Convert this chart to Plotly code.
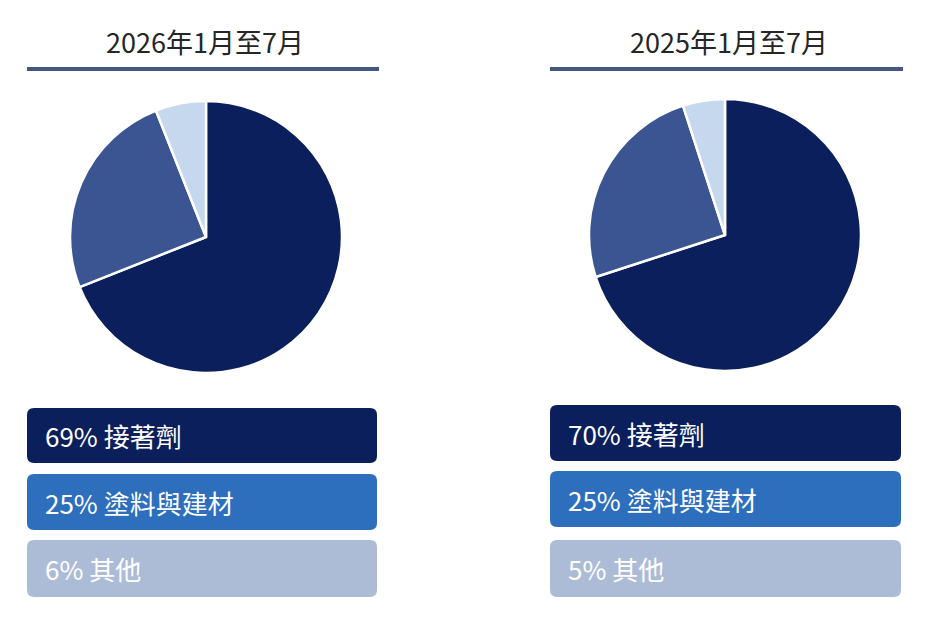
import plotly.graph_objects as go

W, H = 932, 628
OFF = 8  # page body margin pushes the plot 8px right and down

periods = ['2026年1月至7月', '2025年1月至7月']
categories = ['接著劑', '塗料與建材', '其他']
share_2026 = [69, 25, 6]
share_2025 = [70, 25, 5]
shares = [share_2026, share_2025]

pie_colors = ['#0b1f5c', '#3a5592', '#c5d8ed']
box_colors = ['#0b1f5c', '#2e6fbd', '#adbcd6']

# pixel layout of each panel (left edge, right edge, pie centre)
panels = [
    dict(x0=27, x1=377, cx=206, cy=237, r=136, boxes=[(408, 463), (474, 530), (540, 597)]),
    dict(x0=550, x1=901, cx=725, cy=235, r=136, boxes=[(405, 461), (471, 527), (540, 597)]),
]


def px(x):
    return (x - OFF) / W


def py(y):
    return 1 - (y - OFF) / H


def rounded_rect(x0, y0, x1, y1, r=7):
    # path in paper coords, built from pixel corners
    a, b, c, d = px(x0), px(x1), py(y0), py(y1)
    rx, ry = r / W, r / H
    return (f'M {a + rx},{c} L {b - rx},{c} Q {b},{c} {b},{c - ry} '
            f'L {b},{d + ry} Q {b},{d} {b - rx},{d} '
            f'L {a + rx},{d} Q {a},{d} {a},{d + ry} '
            f'L {a},{c - ry} Q {a},{c} {a + rx},{c} Z')


fig = go.Figure()

for i, p in enumerate(panels):
    fig.add_trace(go.Pie(
        labels=categories,
        values=shares[i],
        sort=False,
        direction='clockwise',
        rotation=0,
        textinfo='none',
        hoverinfo='label+percent',
        marker=dict(colors=pie_colors, line=dict(color='white', width=2.5)),
        domain=dict(x=[px(p['cx'] - p['r']), px(p['cx'] + p['r'])],
                    y=[py(p['cy'] + p['r']), py(p['cy'] - p['r'])]),
        showlegend=False,
    ))
    # title and rule under it
    fig.add_annotation(
        x=px((p['x0'] + p['x1']) / 2 + 3), y=py(41), xref='paper', yref='paper',
        xanchor='center', yanchor='middle',
        text=periods[i], showarrow=False,
        font=dict(size=27, color='#262626'),
    )
    fig.add_shape(type='line', xref='paper', yref='paper',
                  x0=px(p['x0']), x1=px(p['x1'] + 2), y0=py(69), y1=py(69),
                  line=dict(color='#44577f', width=4))
    # label boxes
    for j, (top, bot) in enumerate(p['boxes']):
        fig.add_shape(type='path', xref='paper', yref='paper',
                      path=rounded_rect(p['x0'], top, p['x1'], bot),
                      fillcolor=box_colors[j], line=dict(width=0))
        fig.add_annotation(
            x=px(p['x0'] + 16), y=py((top + bot) / 2), xref='paper', yref='paper',
            xanchor='left', yanchor='middle',
            text=f'{shares[i][j]}% {categories[j]}', showarrow=False,
            font=dict(size=26, color='white'),
        )

fig.update_layout(
    width=W, height=H,
    margin=dict(l=0, r=0, t=0, b=0),
    paper_bgcolor='white',
    plot_bgcolor='white',
    font=dict(family='Noto Sans CJK TC, Noto Sans, sans-serif'),
)

fig.write_html('out.html')
